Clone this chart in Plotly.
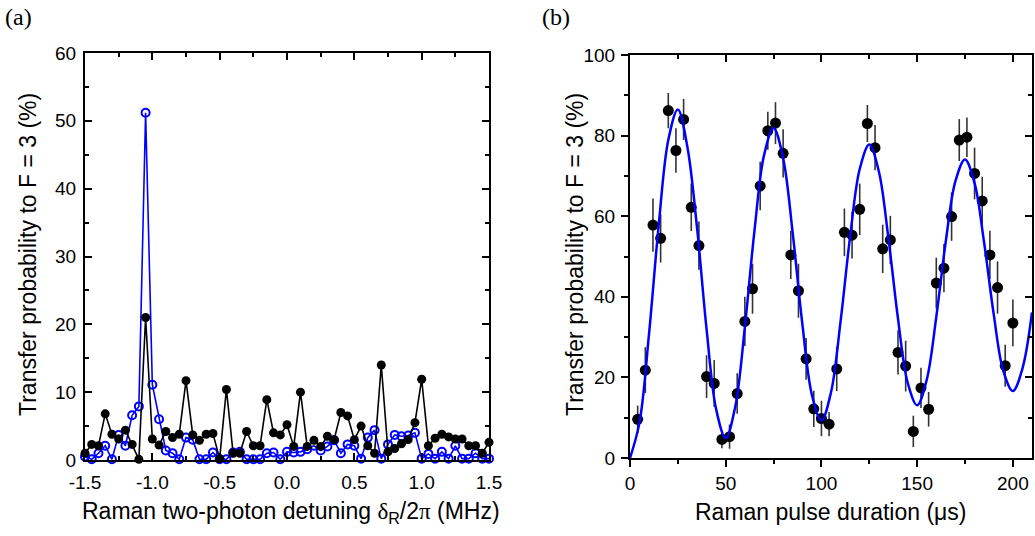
import plotly.graph_objects as go

# ---------------- Panel (a) data ----------------
detuning = [-1.50, -1.45, -1.40, -1.35, -1.30, -1.25, -1.20, -1.15, -1.10, -1.05,
            -1.00, -0.95, -0.90, -0.85, -0.80, -0.75, -0.70, -0.65, -0.60, -0.55,
            -0.50, -0.45, -0.40, -0.35, -0.30, -0.25, -0.20, -0.15, -0.10, -0.05,
            0.00, 0.05, 0.10, 0.15, 0.20, 0.25, 0.30, 0.35, 0.40, 0.45,
            0.50, 0.55, 0.60, 0.65, 0.70, 0.75, 0.80, 0.85, 0.90, 0.95,
            1.00, 1.05, 1.10, 1.15, 1.20, 1.25, 1.30, 1.35, 1.40, 1.45, 1.50]
prob_black = [1.0, 2.3, 2.1, 6.8, 3.8, 3.1, 4.4, 2.3, 0.1, 21.0,
              3.1, 2.2, 4.2, 3.3, 3.8, 11.7, 3.7, 2.9, 3.8, 3.9,
              0.2, 10.4, 1.0, 1.0, 4.2, 2.1, 2.1, 8.9, 4.0, 3.7,
              5.2, 2.0, 10.0, 2.0, 2.9, 2.0, 3.5, 3.0, 7.0, 6.5,
              3.0, 5.0, 2.1, 1.0, 14.0, 1.2, 1.7, 2.4, 3.0, 5.5,
              11.9, 2.1, 3.2, 3.8, 3.4, 3.1, 3.1, 2.1, 2.1, 1.0, 2.6]
prob_blue = [0.5, 0.1, 1.0, 2.1, 0.1, 3.7, 2.1, 6.6, 7.9, 51.2,
             11.1, 6.0, 1.4, 1.0, 0.1, 3.3, 3.0, 0.1, 0.1, 1.1,
             0.1, 0.1, 1.1, 1.2, 0.1, 0.1, 0.1, 1.0, 1.1, 0.1,
             1.2, 1.1, 1.2, 1.6, 2.1, 1.4, 2.0, 2.9, 1.0, 2.3,
             2.1, 0.2, 3.3, 4.4, 0.2, 2.3, 3.7, 3.5, 3.6, 4.0,
             0.2, 0.9, 0.2, 1.2, 0.2, 2.1, 0.2, 0.2, 1.0, 0.2, 0.2]

a_xticks = [-1.5, -1.0, -0.5, 0.0, 0.5, 1.0, 1.5]
a_xticklabels = ["-1.5", "-1.0", "-0.5", "0.0", "0.5", "1.0", "1.5"]
a_yticks = [0, 10, 20, 30, 40, 50, 60]

# ---------------- Panel (b) data ----------------
pulse_time = [4, 8, 12, 16, 20, 24, 28, 32, 36, 40, 44, 48, 52, 56, 60, 64, 68, 72, 76, 80,
              84, 88, 92, 96, 100, 104, 108, 112, 116, 120, 124, 128, 132, 136, 140, 144,
              148, 152, 156, 160, 164, 168, 172, 176, 180, 184, 188, 192, 196, 200]
prob_meas = [9.6, 21.8, 57.8, 54.5, 86.2, 76.3, 84.0, 62.2, 52.7, 20.2,
             18.5, 4.6, 5.3, 16.0, 33.9, 42.0, 67.5, 81.2, 83.1, 75.6,
             50.4, 41.5, 24.6, 12.2, 9.8, 8.4, 22.1, 56.0, 55.3, 61.7,
             83.0, 77.0, 51.9, 54.1, 26.2, 22.8, 6.6, 17.4, 12.1, 43.4,
             47.1, 59.9, 78.9, 79.6, 70.6, 63.8, 50.4, 42.3, 22.9, 33.5]
prob_err = [3.4, 5.7, 6.6, 6.0, 4.4, 5.5, 5.1, 5.9, 6.0, 5.3,
            5.8, 2.2, 3.0, 5.0, 6.1, 6.2, 6.0, 4.7, 5.2, 6.0,
            6.0, 6.7, 5.2, 4.5, 4.4, 3.0, 5.5, 5.9, 5.8, 6.4,
            4.6, 5.6, 6.0, 6.0, 5.5, 6.3, 3.9, 5.0, 4.3, 6.3,
            6.0, 6.0, 5.2, 4.9, 6.4, 6.0, 6.0, 6.5, 5.2, 5.8]
fit_time = [0, 5, 10, 15, 20, 25, 30, 35, 40, 45, 50, 55, 60, 65, 70, 75, 80, 85, 90, 95,
            100, 105, 110, 115, 120, 125, 130, 135, 140, 145, 150, 155, 160, 165, 170,
            175, 180, 185, 190, 195, 200, 205, 210]
fit_prob = [0, 8.9, 31.1, 57.8, 78.9, 86.5, 77.1, 57.2, 32.0, 12.1, 4.9, 12.8, 32.5, 56.3,
            75.1, 81.9, 74.4, 55.8, 33.4, 15.7, 9.3, 16.3, 33.9, 55.0, 71.7, 77.8, 71.1,
            54.5, 34.6, 18.8, 13.1, 19.4, 35.0, 53.9, 68.7, 74.1, 68.2, 53.4, 35.7, 21.6,
            16.6, 22.2, 36.1]
b_xticks = [0, 50, 100, 150, 200]
b_yticks = [0, 20, 40, 60, 80, 100]

W, H = 1035, 536
SANS = "Liberation Sans, Arial, sans-serif"
SERIF = "Liberation Serif, Times New Roman, serif"
BLUE = "#0000ff"
TICKFONT = dict(family=SANS, size=19, color="black")

# panel geometry in pixels
A_L, A_R, A_T, A_B = 85, 489, 53, 460
B_L, B_R, B_T, B_B = 630, 1032, 55, 458


def px_x(p):
    return p / W


def px_y(p):
    return 1 - p / H


fig = go.Figure()

# Panel (a)
fig.add_trace(go.Scatter(x=detuning, y=prob_blue, mode="lines+markers",
                         line=dict(color=BLUE, width=1.6),
                         marker=dict(symbol="circle-open", size=8, color=BLUE,
                                     line=dict(width=2, color=BLUE)),
                         cliponaxis=False, xaxis="x", yaxis="y", showlegend=False))
fig.add_trace(go.Scatter(x=detuning, y=prob_black, mode="lines+markers",
                         line=dict(color="black", width=1.6),
                         marker=dict(symbol="circle", size=9, color="black"),
                         cliponaxis=False, xaxis="x", yaxis="y", showlegend=False))

# Panel (b)
fig.add_trace(go.Scatter(x=pulse_time, y=prob_meas, mode="markers",
                         marker=dict(symbol="circle", size=11, color="black"),
                         error_y=dict(type="data", array=prob_err, visible=True,
                                      color="#333333", thickness=1.6, width=0),
                         xaxis="x2", yaxis="y2", showlegend=False))
fig.add_trace(go.Scatter(x=fit_time, y=fit_prob, mode="lines",
                         line=dict(color=BLUE, width=2.5, shape="spline", smoothing=1.0),
                         xaxis="x2", yaxis="y2", showlegend=False))

# invisible helpers for overlay axes
for xa, ya in [("x3", "y"), ("x", "y3"), ("x4", "y2"), ("x2", "y4")]:
    fig.add_trace(go.Scatter(x=[None], y=[None], xaxis=xa, yaxis=ya,
                             showlegend=False, hoverinfo="skip"))

common = dict(showline=True, linewidth=2, linecolor="black", showgrid=False,
              zeroline=False, tickcolor="black", tickwidth=1.5, ticklen=7,
              tickfont=TICKFONT, automargin=False)


def minor(direction, dt):
    return dict(ticks=direction, dtick=dt, tick0=0, ticklen=4,
                tickwidth=1.5, tickcolor="black")


a_dom_x = [px_x(A_L), px_x(A_R)]
a_dom_y = [px_y(A_B), px_y(A_T)]
b_dom_x = [px_x(B_L), px_x(B_R)]
b_dom_y = [px_y(B_B), px_y(B_T)]

fig.update_layout(
    width=W, height=H,
    margin=dict(l=0, r=0, t=0, b=0, pad=0, autoexpand=False),
    paper_bgcolor="white", plot_bgcolor="white", showlegend=False,
    xaxis=dict(domain=a_dom_x, anchor="y", range=[-1.5, 1.5], ticks="inside",
               tickvals=a_xticks, ticktext=a_xticklabels, ticklabelstandoff=4,
               minor=minor("inside", 0.25), **common),
    yaxis=dict(domain=a_dom_y, anchor="x", range=[0, 60], ticks="inside",
               tickvals=a_yticks, ticklabelstandoff=3,
               minor=minor("inside", 5), **common),
    xaxis3=dict(overlaying="x", anchor="y", side="top", range=[-1.5, 1.5],
                ticks="inside", tickvals=a_xticks, showticklabels=False,
                minor=minor("inside", 0.25), **common),
    yaxis3=dict(overlaying="y", anchor="x", side="right", range=[0, 60],
                ticks="inside", tickvals=a_yticks, showticklabels=False,
                minor=minor("inside", 5), **common),
    xaxis2=dict(domain=b_dom_x, anchor="y2", range=[0, 210], ticks="outside",
                tickvals=b_xticks, ticklabelstandoff=0,
                minor=minor("outside", 25), **common),
    yaxis2=dict(domain=b_dom_y, anchor="x2", range=[0, 100], ticks="outside",
                tickvals=b_yticks, ticklabelstandoff=2,
                minor=minor("outside", 10), **common),
    xaxis4=dict(overlaying="x2", anchor="y2", side="top", range=[0, 210],
                ticks="inside", tickvals=b_xticks, showticklabels=False,
                minor=minor("inside", 25), **common),
    yaxis4=dict(overlaying="y2", anchor="x2", side="right", range=[0, 100],
                ticks="inside", tickvals=b_yticks, showticklabels=False,
                minor=minor("inside", 10), **common),
)

title_font = dict(family=SANS, size=23, color="black")
ann = [
    dict(text="(a)", x=px_x(3), y=px_y(17), xanchor="left", yanchor="middle",
         font=dict(family=SERIF, size=24, color="black")),
    dict(text="(b)", x=px_x(540), y=px_y(17), xanchor="left", yanchor="middle",
         font=dict(family=SERIF, size=24, color="black")),
    dict(text=("Raman two-photon detuning "
               "<span style='font-family:Liberation Serif'>δ</span><sub>R</sub>/2"
               "<span style='font-family:Liberation Serif'>π</span> (MHz)"),
         x=px_x(291), y=px_y(512), xanchor="center", yanchor="middle", font=title_font),
    dict(text="Raman pulse duration (μs)", x=px_x(831), y=px_y(512),
         xanchor="center", yanchor="middle", font=title_font),
    dict(text="Transfer probability to F = 3 (%)", x=px_x(28), y=px_y(255),
         xanchor="center", yanchor="middle", textangle=-90, font=title_font),
    dict(text="Transfer probability to F = 3 (%)", x=px_x(575), y=px_y(255),
         xanchor="center", yanchor="middle", textangle=-90, font=title_font),
]
for a in ann:
    a.update(xref="paper", yref="paper", showarrow=False)
fig.update_layout(annotations=ann)

fig.write_html("out.html",
               post_script="document.body.style.margin='0';document.body.style.overflow='hidden';")
